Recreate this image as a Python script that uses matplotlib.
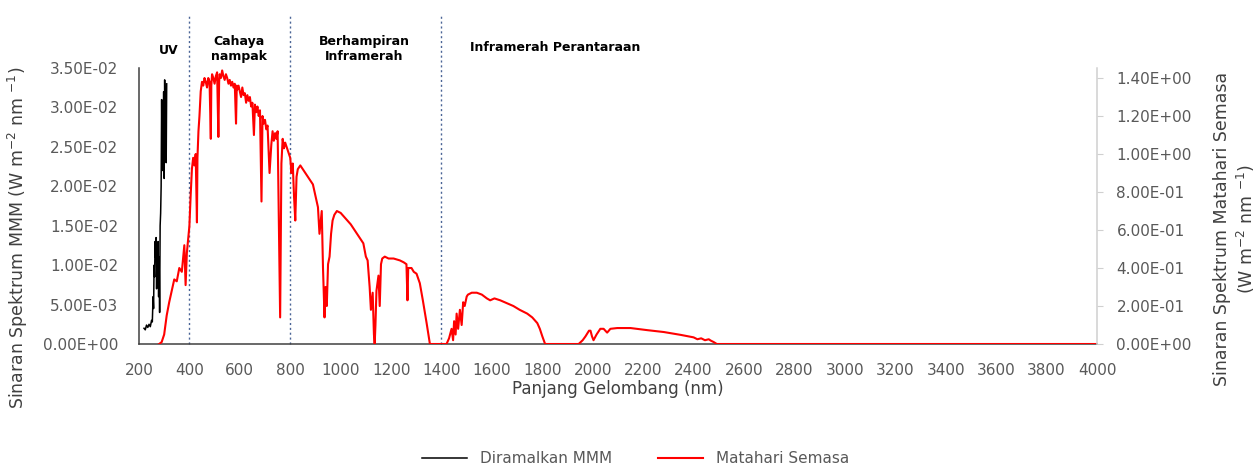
import matplotlib.pyplot as plt
from matplotlib.ticker import FuncFormatter

# Predicted spectrum (left axis), W m-2 nm-1
mmm_nm = [220, 225, 230, 235, 240, 245, 250, 253, 256, 258, 260, 262, 264, 266,
          268, 270, 272, 274, 276, 278, 280, 282, 284, 286, 288, 290, 292, 294,
          296, 298, 300, 302, 304, 306, 308, 310]
mmm_val = [0.0020, 0.0018, 0.0024, 0.0021, 0.0025, 0.0022, 0.0030, 0.0028, 0.0060,
           0.0045, 0.0100, 0.0085, 0.0130, 0.0110, 0.0135, 0.0070, 0.0120, 0.0090,
           0.0130, 0.0060, 0.0110, 0.0040, 0.0150, 0.0166, 0.0200, 0.0310, 0.0220,
           0.0290, 0.0240, 0.0320, 0.0210, 0.0335, 0.0250, 0.0320, 0.0230, 0.0330]

# Current solar spectrum (right axis), W m-2 nm-1
sun_nm = [280, 290, 300, 310, 320, 330, 340, 350, 360, 370, 375, 380, 385, 390, 395,
          400, 405, 410, 415, 420, 425, 430, 432, 436, 440, 445, 450, 455, 460, 465,
          470, 475, 480, 485, 487, 490, 495, 500, 505, 510, 515, 518, 520, 525, 530,
          535, 540, 545, 550, 555, 560, 565, 570, 575, 580, 585, 588, 590, 595, 600,
          605, 610, 615, 620, 625, 630, 635, 640, 645, 650, 656, 660, 665, 670, 675,
          680, 686, 690, 695, 700, 705, 710, 718, 725, 730, 735, 740, 745, 750, 760,
          765, 770, 775, 780, 790, 800, 805, 810, 815, 820, 825, 830, 840,
          850, 860, 870, 880, 890, 900, 910, 916, 925, 930, 936, 940, 945, 950, 956,
          962, 968, 975, 985, 1000, 1020, 1040, 1060, 1080, 1090, 1100, 1107, 1115,
          1120, 1127, 1132, 1135, 1138, 1142, 1150, 1155, 1160, 1165, 1175, 1190,
          1210, 1235, 1250, 1261, 1265, 1268, 1281, 1290, 1301, 1314, 1326, 1341,
          1354, 1420, 1430, 1440, 1446, 1450, 1456, 1460, 1466, 1473, 1480, 1486,
          1492, 1500, 1505, 1520, 1540, 1560, 1580, 1593, 1610, 1633, 1650, 1685,
          1710, 1740, 1760, 1780, 1790, 1800, 1811, 1944, 1960, 1971, 1985, 1991,
          1997, 2003, 2015, 2030, 2043, 2057, 2070, 2097, 2150, 2216, 2282, 2349,
          2380, 2400, 2415, 2430, 2445, 2460, 2468, 2480, 2492, 4000]
sun_val = [0.0, 0.01, 0.05, 0.15, 0.22, 0.28, 0.34, 0.33, 0.40, 0.38, 0.45, 0.52, 0.31,
           0.48, 0.55, 0.62, 0.78, 0.92, 0.98, 0.94, 1.00, 0.64, 0.98, 1.12, 1.20, 1.33,
           1.38, 1.36, 1.40, 1.38, 1.35, 1.40, 1.38, 1.08, 1.36, 1.42, 1.40, 1.37, 1.41,
           1.43, 1.09, 1.38, 1.42, 1.40, 1.44, 1.41, 1.39, 1.42, 1.40, 1.37, 1.39, 1.36,
           1.38, 1.35, 1.37, 1.16, 1.36, 1.34, 1.36, 1.33,
           1.30, 1.35, 1.31, 1.32, 1.27, 1.31, 1.28, 1.30, 1.25, 1.27,
           1.10, 1.26, 1.22, 1.25, 1.20, 1.23, 0.75, 1.20, 1.16, 1.18, 1.13, 1.15,
           0.90, 1.05, 1.12, 1.07, 1.11, 1.08, 1.12, 0.14,
           0.95, 1.08, 1.03, 1.06, 1.02, 0.98, 0.90, 0.95, 0.78, 0.65, 0.88, 0.92, 0.94,
           0.92, 0.90, 0.88, 0.86, 0.84, 0.78, 0.72, 0.58, 0.70, 0.40, 0.14, 0.30, 0.20,
           0.42, 0.46, 0.58, 0.65, 0.68, 0.70, 0.69, 0.66, 0.63, 0.59, 0.55, 0.53, 0.46,
           0.44, 0.30, 0.18, 0.27, 0.05, 0.0, 0.10, 0.28, 0.36, 0.20, 0.42, 0.45, 0.46,
           0.45, 0.45, 0.44, 0.43, 0.42, 0.23, 0.40, 0.40, 0.38, 0.37, 0.32, 0.23, 0.11,
           0.0, 0.0, 0.03, 0.08, 0.02, 0.12, 0.05, 0.16, 0.08, 0.18, 0.10, 0.22, 0.20,
           0.25, 0.26, 0.27, 0.27, 0.26, 0.24, 0.23, 0.24, 0.23, 0.22, 0.20, 0.18, 0.16,
           0.14, 0.11, 0.08, 0.04, 0.0, 0.0, 0.02, 0.04, 0.07, 0.07, 0.04, 0.02, 0.05,
           0.08, 0.08, 0.06, 0.08, 0.084, 0.084, 0.073, 0.063, 0.048, 0.040, 0.035,
           0.025, 0.030, 0.020, 0.025, 0.018, 0.010, 0.0, 0.0]

region_edges = [400, 800, 1400]
region_labels = ['UV', 'Cahaya\nnampak', 'Berhampiran\nInframerah', 'Inframerah Perantaraan']
region_label_x = [319, 598, 1095, 1851]
region_label_y = [1.065, 1.069, 1.069, 1.076]

left_ticks = [0, 0.005, 0.01, 0.015, 0.02, 0.025, 0.03, 0.035]
right_ticks = [0, 0.2, 0.4, 0.6, 0.8, 1.0, 1.2, 1.4]
x_ticks = list(range(200, 4001, 200))

GREY = '#595959'


def sci(v, pos):
    return '{:.2E}'.format(v)


fig = plt.figure(figsize=(12.53, 4.63), dpi=100)
ax = fig.add_axes([0.1109, 0.257, 0.7646, 0.596])
ax2 = ax.twinx()

ax.plot(mmm_nm, mmm_val, color='black', lw=1.1, label='Diramalkan MMM')
ax2.plot(sun_nm, sun_val, color='#ff0000', lw=1.5, label='Matahari Semasa')

ax.set_xlim(200, 4000)
ax.set_ylim(0, 0.035)
ax2.set_ylim(0, 1.4 * 277 / 267)

ax.set_xticks(x_ticks)
ax.set_yticks(left_ticks)
ax2.set_yticks(right_ticks)
ax.yaxis.set_major_formatter(FuncFormatter(sci))
ax2.yaxis.set_major_formatter(FuncFormatter(sci))

ax.tick_params(axis='x', length=0, pad=14, labelsize=11, labelcolor=GREY)
ax.tick_params(axis='y', length=0, pad=15, labelsize=11, labelcolor=GREY)
ax2.tick_params(axis='y', length=4, pad=10, labelsize=11, labelcolor=GREY,
                color='#d0d0d0')

for s in ['top', 'right']:
    ax.spines[s].set_visible(False)
for s in ['top', 'left', 'bottom']:
    ax2.spines[s].set_visible(False)
ax.spines['left'].set_color('#404040')
ax.spines['bottom'].set_color('#404040')
ax.spines['left'].set_linewidth(1.1)
ax.spines['bottom'].set_linewidth(1.1)
ax2.spines['right'].set_color('#d0d0d0')
ax2.spines['right'].set_linewidth(1.1)

for xv in region_edges:
    ax.axvline(xv, ymin=0, ymax=1.19, color='#4a6496', lw=1.0,
               linestyle=(0, (1.5, 2)), clip_on=False, zorder=0)

for xv, yv, lab in zip(region_label_x, region_label_y, region_labels):
    ax.text(xv, yv, lab, transform=ax.get_xaxis_transform(), ha='center',
            va='center', fontsize=9, fontweight='bold', color='black')

ax.set_xlabel('Panjang Gelombang (nm)', fontsize=12, color='#404040', labelpad=1)
ax.set_ylabel('Sinaran Spektrum MMM (W m$^{-2}$ nm $^{-1}$)', fontsize=12.5,
              color='#404040')
ax.yaxis.set_label_coords(-0.1138, 0.384)
ax2.set_ylabel('Sinaran Spektrum Matahari Semasa\n(W m$^{-2}$ nm $^{-1}$)',
               fontsize=12.5, color='#404040')
ax2.yaxis.set_label_coords(1.121, 0.417)

h1, l1 = ax.get_legend_handles_labels()
h2, l2 = ax2.get_legend_handles_labels()
fig.legend(h1 + h2, l1 + l2, loc='center', bbox_to_anchor=(0.507, 0.01), ncol=2,
           frameon=False, fontsize=11, labelcolor=GREY, handlelength=3,
           columnspacing=3)

fig.savefig('out.png', dpi=100)
